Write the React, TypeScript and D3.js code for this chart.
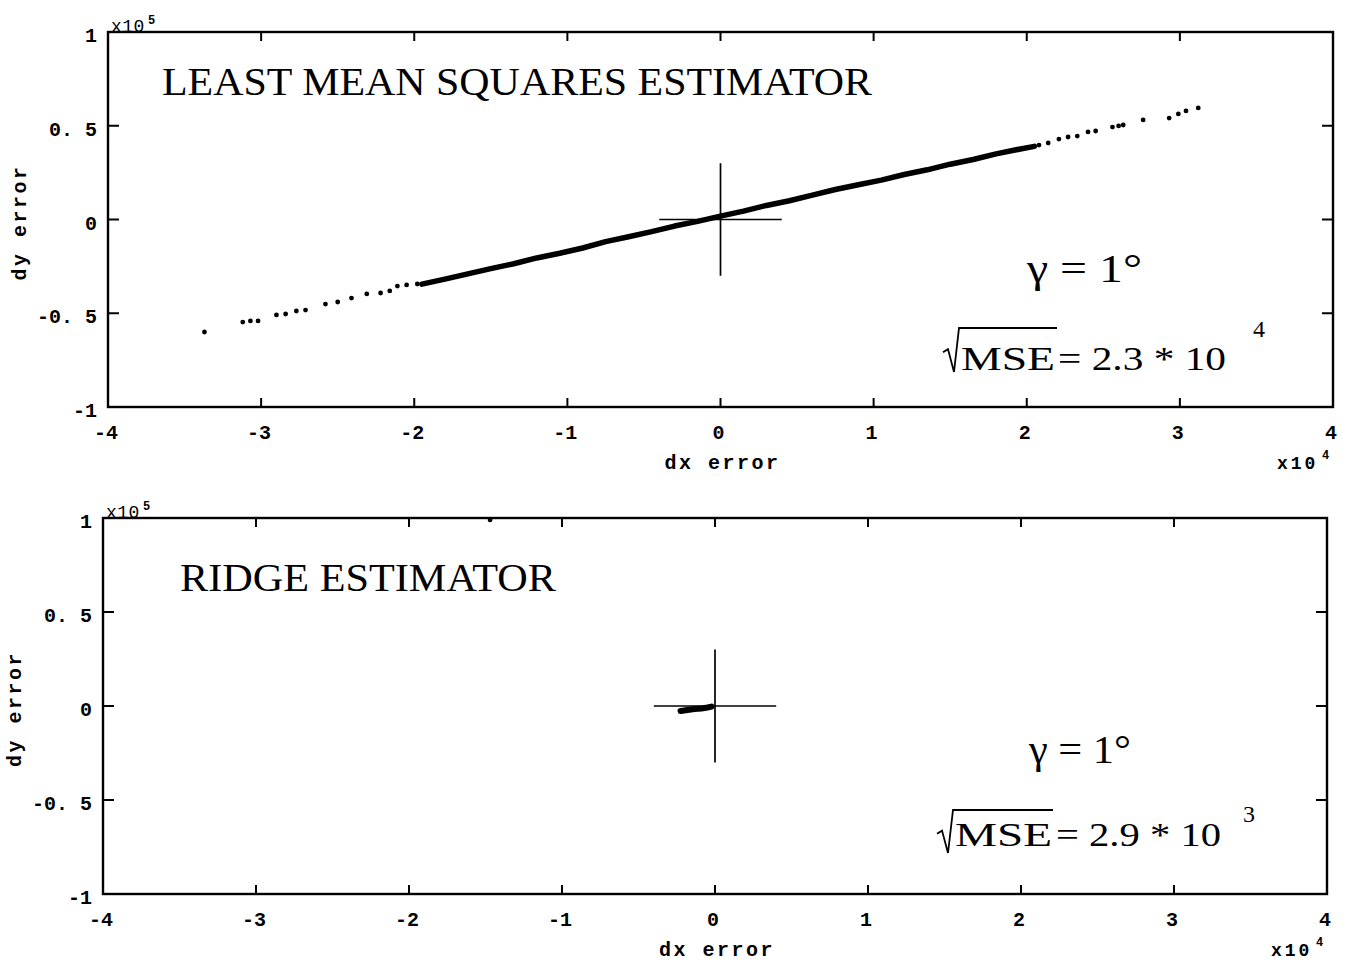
import React from "react";
import * as d3 from "d3";

// units: dx in 1e4, dy in 1e5
const xTicks = [-4, -3, -2, -1, 0, 1, 2, 3, 4];
const xTickLabels = ["-4", "-3", "-2", "-1", "0", "1", "2", "3", "4"];
const yTicks = [-1, -0.5, 0, 0.5, 1];
const yTickLabels = ["-1", "-0. 5", "0", "0. 5", "1"];

// Least mean squares estimator: sparse tails and dense band
const lmsTailLeft: [number, number][] = [
  [-3.37, -0.6], [-3.12, -0.547], [-3.07, -0.541], [-3.02, -0.541],
  [-2.9, -0.509], [-2.84, -0.504], [-2.77, -0.488], [-2.71, -0.483],
  [-2.58, -0.451], [-2.5, -0.44], [-2.41, -0.419], [-2.31, -0.397],
  [-2.22, -0.392], [-2.16, -0.381], [-2.11, -0.355], [-2.05, -0.349], [-1.98, -0.344],
];
const lmsBand: [number, number][] = [
  [-1.95, -0.345], [-1.8, -0.318], [-1.65, -0.29], [-1.5, -0.262], [-1.35, -0.236],
  [-1.2, -0.205], [-1.05, -0.18], [-0.9, -0.152], [-0.75, -0.118], [-0.6, -0.092],
  [-0.45, -0.065], [-0.3, -0.035], [-0.15, -0.01], [0, 0.018], [0.15, 0.045],
  [0.3, 0.075], [0.45, 0.1], [0.6, 0.13], [0.75, 0.16], [0.9, 0.185],
  [1.05, 0.21], [1.2, 0.24], [1.35, 0.265], [1.5, 0.295], [1.65, 0.32],
  [1.8, 0.35], [1.95, 0.375], [2.05, 0.39],
];
const lmsTailRight: [number, number][] = [
  [2.08, 0.397], [2.14, 0.408], [2.21, 0.429], [2.27, 0.44], [2.33, 0.445],
  [2.4, 0.467], [2.45, 0.472], [2.56, 0.493], [2.6, 0.499], [2.63, 0.504],
  [2.76, 0.531], [2.93, 0.541], [2.99, 0.563], [3.04, 0.579], [3.12, 0.595],
];

// Ridge estimator
const ridgeBlob: [number, number][] = [
  [-0.225, -0.027], [-0.18, -0.021], [-0.134, -0.016], [-0.088, -0.013],
  [-0.049, -0.008], [-0.023, -0.003],
];
const ridgeOutliers: [number, number][] = [[-1.47, 0.99]];

const crossHalfX = 0.4;
const crossHalfY = 0.3;

const monoFont = "'Liberation Mono', 'DejaVu Sans Mono', monospace";
const serifFont = "'Liberation Serif', 'Times New Roman', serif";

type Box = { left: number; right: number; top: number; bottom: number };

function Panel({
  box,
  band,
  bandWidth,
  dots,
}: {
  box: Box;
  band: [number, number][][];
  bandWidth: number;
  dots: [number, number][];
}) {
  const x = d3.scaleLinear().domain([-4, 4]).range([box.left, box.right]);
  const y = d3.scaleLinear().domain([-1, 1]).range([box.bottom, box.top]);
  const line = d3.line<[number, number]>().x((d) => x(d[0])).y((d) => y(d[1])).curve(d3.curveLinear);
  const tickLen = 9;
  return (
    <g>
      {/* frame */}
      <rect x={box.left} y={box.top} width={box.right - box.left} height={box.bottom - box.top}
        fill="none" stroke="#000" strokeWidth={2.4} />
      {/* x ticks top and bottom */}
      {xTicks.slice(1, -1).map((t) => (
        <g key={"xt" + t}>
          <line x1={x(t)} x2={x(t)} y1={box.bottom} y2={box.bottom - tickLen} stroke="#000" strokeWidth={2} />
          <line x1={x(t)} x2={x(t)} y1={box.top} y2={box.top + tickLen} stroke="#000" strokeWidth={2} />
        </g>
      ))}
      {yTicks.slice(1, -1).map((t) => (
        <g key={"yt" + t}>
          <line x1={box.left} x2={box.left + tickLen + 2} y1={y(t)} y2={y(t)} stroke="#000" strokeWidth={2} />
          <line x1={box.right} x2={box.right - tickLen - 2} y1={y(t)} y2={y(t)} stroke="#000" strokeWidth={2} />
        </g>
      ))}
      {/* tick labels */}
      {xTicks.map((t, i) => (
        <text key={"xl" + t} x={x(t) - 2} y={box.bottom + 32} textAnchor="middle" fontFamily={monoFont}
          fontWeight="bold" fontSize={20}>
          {xTickLabels[i]}
        </text>
      ))}
      {yTicks.map((t, i) => (
        <text key={"yl" + t} x={box.left - 11} y={y(t) + 10} textAnchor="end" fontFamily={monoFont}
          fontWeight="bold" fontSize={20}>
          {yTickLabels[i]}
        </text>
      ))}
      {/* exponent labels */}
      <text x={box.left + 3} y={box.top} fontFamily={monoFont} fontSize={18} letterSpacing={0.5}>x10</text>
      <text x={box.left + 40} y={box.top - 8} fontFamily={monoFont} fontSize={12} fontWeight="bold">5</text>
      <text x={box.right - 56} y={box.bottom + 62} fontFamily={monoFont} fontSize={18} fontWeight="bold"
        letterSpacing={3}>x10</text>
      <text x={box.right - 11} y={box.bottom + 52} fontFamily={monoFont} fontSize={12} fontWeight="bold">4</text>
      {/* axis labels */}
      <text x={(box.left + box.right) / 2 + 2} y={box.bottom + 62} textAnchor="middle" fontFamily={monoFont}
        fontWeight="bold" fontSize={20} letterSpacing={2.5}>
        dx error
      </text>
      <text transform={`translate(${box.left - 82},${(box.top + box.bottom) / 2 + 3}) rotate(-90)`}
        textAnchor="middle" fontFamily={monoFont} fontWeight="bold" fontSize={20} letterSpacing={2.5}>
        dy error
      </text>
      {/* cross */}
      <line x1={x(-crossHalfX)} x2={x(crossHalfX)} y1={y(0)} y2={y(0)} stroke="#000" strokeWidth={1.7} />
      <line x1={x(0)} x2={x(0)} y1={y(-crossHalfY)} y2={y(crossHalfY)} stroke="#000" strokeWidth={1.7} />
      {/* data */}
      {band.map((b, i) => (
        <path key={"b" + i} d={line(b) || ""} fill="none" stroke="#000" strokeWidth={bandWidth}
          strokeLinecap="round" strokeLinejoin="round" />
      ))}
      {dots.map((d, i) => (
        <circle key={"d" + i} cx={x(d[0])} cy={y(d[1])} r={2.4} fill="#000" />
      ))}
    </g>
  );
}

function Radical({ x0, yTop, yBottom, x1 }: { x0: number; yTop: number; yBottom: number; x1: number }) {
  const h = yBottom - yTop;
  const d = `M${x0},${yTop + h * 0.55} L${x0 + 5},${yTop + h * 0.48} L${x0 + 11},${yBottom} L${x0 + 16},${yTop} L${x1},${yTop}`;
  return <path d={d} fill="none" stroke="#000" strokeWidth={1.8} strokeLinejoin="miter" />;
}

export default function App() {
  const box1: Box = { left: 108, right: 1333, top: 32, bottom: 407 };
  const box2: Box = { left: 103, right: 1327, top: 518, bottom: 894 };
  return (
    <svg width={1356} height={968} style={{ position: "absolute", left: 0, top: 0, background: "#fff" }}>
      <rect width={1356} height={968} fill="#fff" />
      <Panel box={box1} band={[lmsBand]} bandWidth={5.5} dots={[...lmsTailLeft, ...lmsTailRight]} />
      <Panel box={box2} band={[ridgeBlob]} bandWidth={6} dots={ridgeOutliers} />

      {/* top annotations */}
      <text x={162} y={95} fontFamily={serifFont} fontSize={41} textLength={710} lengthAdjust="spacingAndGlyphs">
        LEAST MEAN SQUARES ESTIMATOR
      </text>
      <text x={1027} y={282} fontFamily={serifFont} fontSize={40} textLength={115} lengthAdjust="spacingAndGlyphs">
        γ = 1°
      </text>
      <Radical x0={943} yTop={328} yBottom={372} x1={1057} />
      <text x={961} y={370} fontFamily={serifFont} fontSize={34} textLength={94} lengthAdjust="spacingAndGlyphs">
        MSE
      </text>
      <text x={1058} y={370} fontFamily={serifFont} fontSize={34} textLength={168} lengthAdjust="spacingAndGlyphs">
        = 2.3 * 10
      </text>
      <text x={1253} y={337} fontFamily={serifFont} fontSize={24}>4</text>

      {/* bottom annotations */}
      <text x={180} y={591} fontFamily={serifFont} fontSize={41} textLength={376} lengthAdjust="spacingAndGlyphs">
        RIDGE ESTIMATOR
      </text>
      <text x={1029} y={763} fontFamily={serifFont} fontSize={40} textLength={102} lengthAdjust="spacingAndGlyphs">
        γ = 1°
      </text>
      <Radical x0={937} yTop={810} yBottom={853} x1={1053} />
      <text x={955} y={846} fontFamily={serifFont} fontSize={34} textLength={97} lengthAdjust="spacingAndGlyphs">
        MSE
      </text>
      <text x={1056} y={846} fontFamily={serifFont} fontSize={34} textLength={165} lengthAdjust="spacingAndGlyphs">
        = 2.9 * 10
      </text>
      <text x={1243} y={822} fontFamily={serifFont} fontSize={24}>3</text>
    </svg>
  );
}
